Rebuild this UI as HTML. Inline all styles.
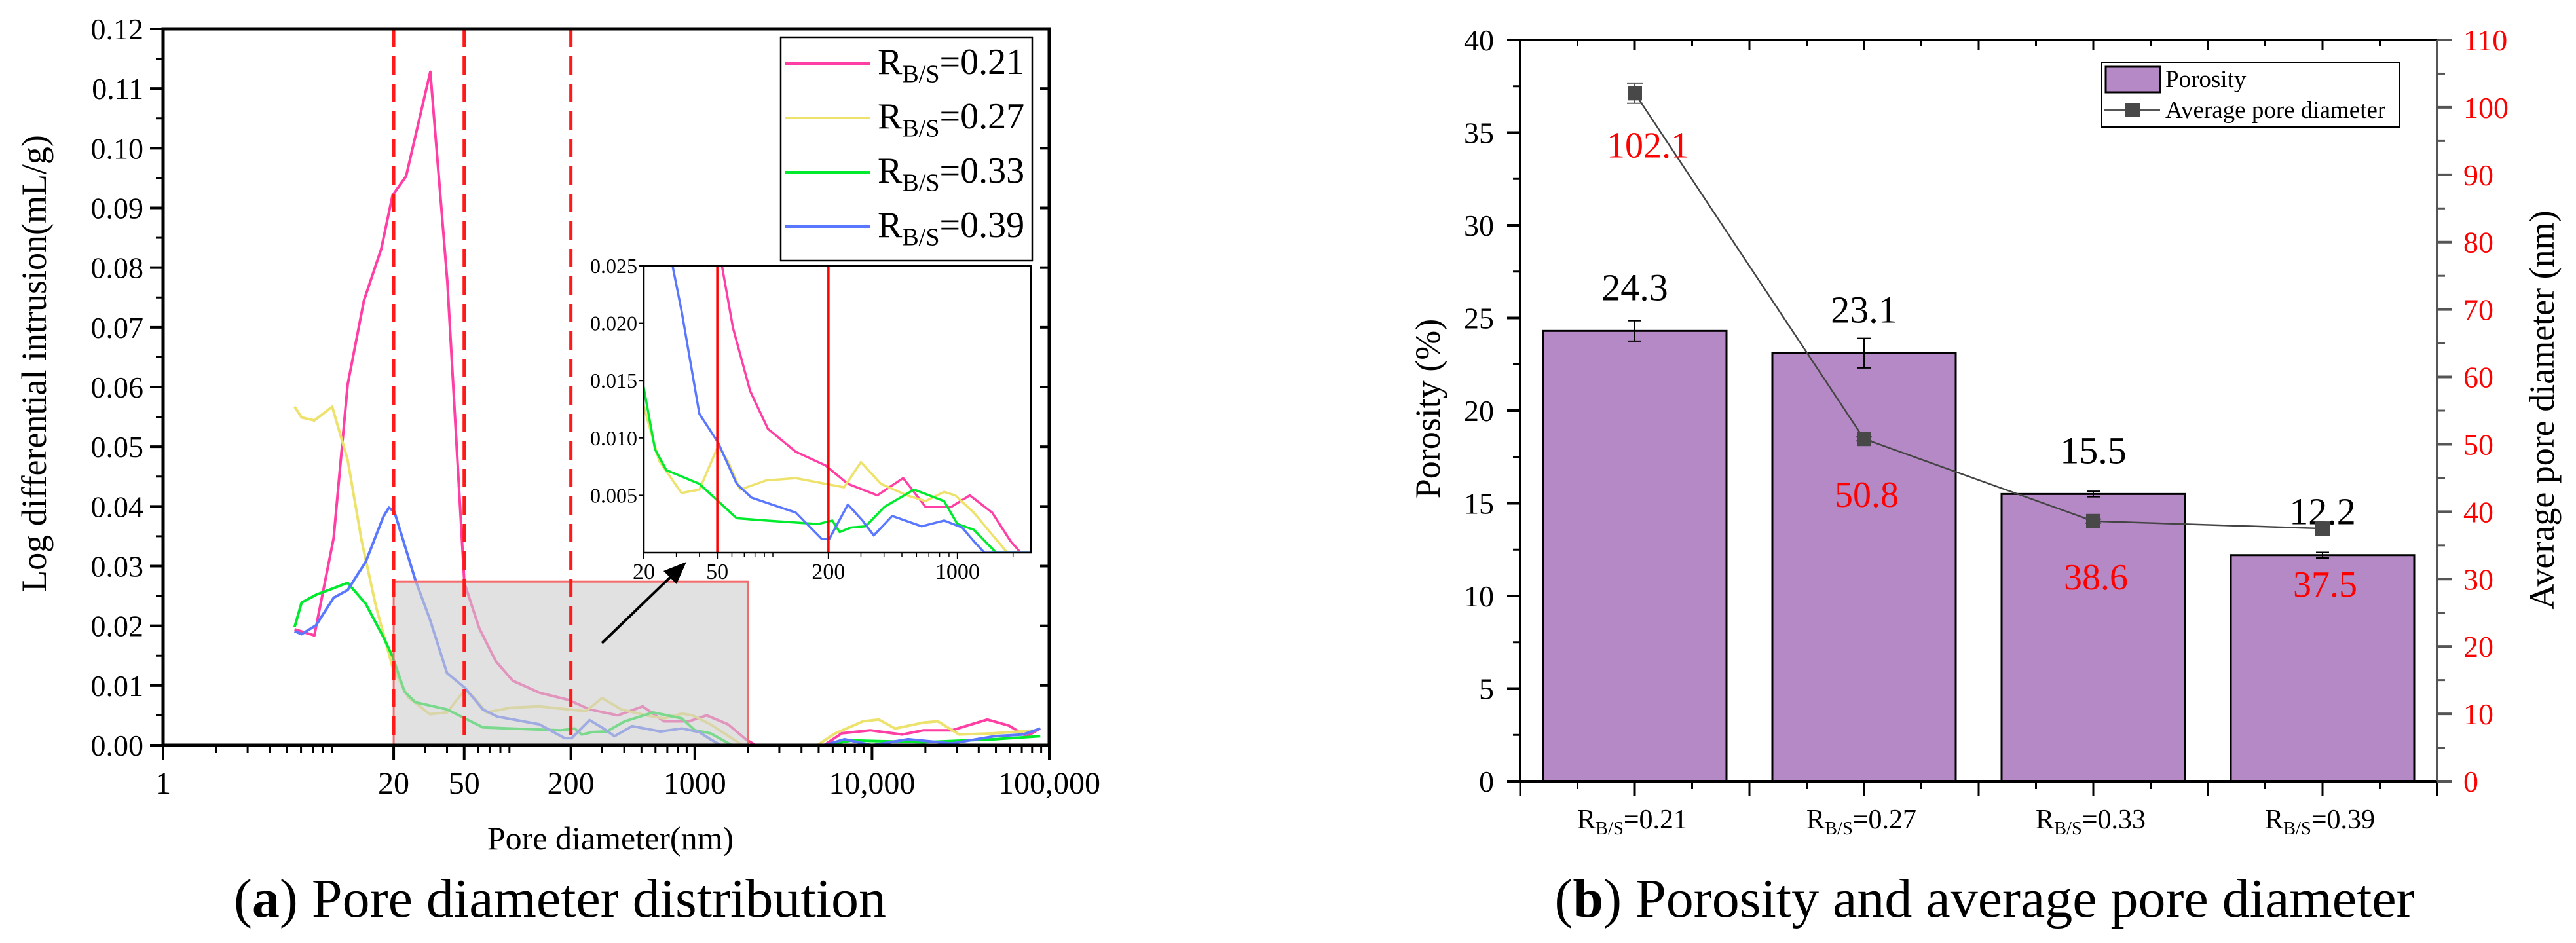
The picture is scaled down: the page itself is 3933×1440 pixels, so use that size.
<!DOCTYPE html>
<html><head><meta charset="utf-8">
<style>
html,body{margin:0;padding:0;background:#fff;}
svg{display:block;font-family:"Liberation Serif",serif;}
</style></head>
<body>
<svg id="fig" width="3933" height="1440" viewBox="0 0 3933 1440" xmlns="http://www.w3.org/2000/svg">
<g id="left"></g>
<g id="right"></g>
</svg>
<script>
// ---------- Chart (a) data ----------
const seriesNames = ["0.21","0.27","0.33","0.39"];
const seriesColors = ["#ff3fa4","#ece26c","#00ea2e","#5a78ff"];
const d021 = [5.52,7.14,9.17,11.0,13.6,17.0,19.7,23.5,32.2,40.2,50.1,60.8,75.3,94,133,193,255,368,508,671,927,1167,1541,1941,2200,5360,6750,9770,14800,19500,28200,44700,59000,74500,89000];
const v021 = [0.0194,0.0184,0.0347,0.0604,0.0745,0.0831,0.0921,0.0953,0.1128,0.0775,0.0272,0.0196,0.0141,0.0108,0.0088,0.0076,0.0060,0.0050,0.0065,0.0040,0.0040,0.0050,0.0035,0.0010,0,0,0.0020,0.0025,0.0018,0.0025,0.0025,0.0043,0.0033,0.0015,0.0028];
const d027 = [5.52,6.05,7.14,9.0,11.0,13.2,15.9,19.7,24.2,32,40,50.5,57,66.5,92,133,193,243,300,385,533,671,846,973,1226,1860,4900,6200,8900,10900,13500,19500,23500,31000,49000,85000];
const v027 = [0.0567,0.0549,0.0544,0.0567,0.0478,0.0342,0.0232,0.0131,0.0080,0.0052,0.0055,0.0093,0.0080,0.0055,0.0063,0.0065,0.0060,0.0057,0.0079,0.0060,0.0050,0.0045,0.0053,0.0050,0.0035,0,0,0.0020,0.0040,0.0043,0.0028,0.0038,0.0040,0.0018,0.0020,0.0025];
const d033 = [5.52,6.05,7.3,11.0,13.9,17.5,19.7,23,26.5,40,50.5,63.7,92,176,210,230,265,318,403,582,846,1000,1226,1620,5360,7740,19500,49000,89000];
const v033 = [0.0198,0.0239,0.0252,0.0272,0.0237,0.0181,0.0149,0.0090,0.0072,0.0060,0.0045,0.0030,0.0028,0.0025,0.0028,0.0018,0.0022,0.0023,0.0040,0.0055,0.0045,0.0025,0.0020,0,0,0.0008,0.0005,0.0010,0.0015];
const d039 = [5.52,6.05,7.3,9.17,11.0,13.9,17.5,18.8,20.2,26.5,32,40,50.5,63.7,76.6,133,184,202,255,306,352,443,640,846,1060,1226,1400,5360,7000,10000,16000,28000,49000,71000,89000];
const v039 = [0.0191,0.0186,0.0201,0.0247,0.0260,0.0307,0.0383,0.0398,0.0391,0.0277,0.0211,0.0121,0.0096,0.0060,0.0048,0.0035,0.0012,0.0012,0.0042,0.0028,0.0015,0.0032,0.0023,0.0028,0.0022,0.0010,0,0,0.0010,0,0.0010,0.0003,0.0015,0.0018,0.0028];
const xTickVals = [1,20,50,200,1000,10000,100000];
const xTickLabels = ["1","20","50","200","1000","10,000","100,000"];
const yTickVals = [0,0.01,0.02,0.03,0.04,0.05,0.06,0.07,0.08,0.09,0.10,0.11,0.12];
const yTickLabels = ["0.00","0.01","0.02","0.03","0.04","0.05","0.06","0.07","0.08","0.09","0.10","0.11","0.12"];
const dashedLines = [20,50,200];
const zoomBox = [20,2000,0.0274];
const insetYTicks = [0.005,0.010,0.015,0.020,0.025];
const insetYLabels = ["0.005","0.010","0.015","0.020","0.025"];
const insetXTicks = [20,50,200,1000];
const insetXLabels = ["20","50","200","1000"];
const insetRedLines = [50,200];

// ---------- Chart (b) data ----------
const categories = ["0.21","0.27","0.33","0.39"];
const porosity = [24.3,23.1,15.5,12.2];
const porosityErr = [0.55,0.8,0.15,0.15];
const avgDiameter = [102.1,50.8,38.6,37.5];
const avgDiameterErr = [1.5,0.3,0.3,0.3];
const leftTicks = [0,5,10,15,20,25,30,35,40];
const rightTicks = [0,10,20,30,40,50,60,70,80,90,100,110];

const NS = "http://www.w3.org/2000/svg";
function mk(parent, tag, attrs, text){
  const e = document.createElementNS(NS, tag);
  for (const k in attrs) e.setAttribute(k, attrs[k]);
  if (text !== undefined) e.textContent = text;
  parent.appendChild(e);
  return e;
}
function rbs(parent, x, y, size, val, anchor){
  const t = mk(parent, "text", {x:x, y:y, "font-size":size, "text-anchor":anchor||"start", fill:"#000"});
  mk(t, "tspan", {}, "R");
  mk(t, "tspan", {"font-size":size*0.68, dy:size*0.22}, "B/S");
  mk(t, "tspan", {dy:-size*0.22}, "=" + val);
  return t;
}

// ===== Chart (a) =====
(function(){
  const g = document.getElementById("left");
  const X0=249, X1=1602, Y0=1138, Y1=44;
  const xs = d => X0 + Math.log10(d)/5*(X1-X0);
  const ys = v => Y0 - v/0.12*(Y0-Y1);
  const datas = [[d021,v021],[d027,v027],[d033,v033],[d039,v039]];

  for (let dec=0; dec<5; dec++){
    for (let m=2; m<10; m++){
      const x = xs(m*Math.pow(10,dec));
      const t = mk(g,"line",{x1:x,y1:Y0,x2:x,y2:Y0+12,stroke:"#000","stroke-width":3});
      
      
    }
  }
  xTickVals.forEach((v,i)=>{
    const x = xs(v);
    const t = mk(g,"line",{x1:x,y1:Y0,x2:x,y2:Y0+22,stroke:"#000","stroke-width":4});
    
    
    const l = mk(g,"text",{x:x,y:1212,"font-size":48,"text-anchor":"middle"},xTickLabels[i]);
    
    
  });
  yTickVals.forEach((v,i)=>{
    const y = ys(v);
    const t = mk(g,"line",{x1:X0-20,y1:y,x2:X0,y2:y,stroke:"#000","stroke-width":4});
    
    
    const r = mk(g,"line",{x1:X1-14,y1:y,x2:X1,y2:y,stroke:"#000","stroke-width":4});
    
    
    const l = mk(g,"text",{x:X0-30,y:y+16,"font-size":46,"text-anchor":"end"},yTickLabels[i]);
    
    
    if (i<yTickVals.length-1){
      const ym = ys(v+0.005);
      const mt = mk(g,"line",{x1:X0-11,y1:ym,x2:X0,y2:ym,stroke:"#000","stroke-width":3});
      
      
    }
  });

  datas.forEach((dv,si)=>{
    const pts = dv[0].map((d,i)=>xs(d).toFixed(1)+","+ys(dv[1][i]).toFixed(1)).join(" ");
    const p = mk(g,"polyline",{points:pts,fill:"none",stroke:seriesColors[si],"stroke-width":4,"stroke-linejoin":"round"});
    
    
  });

  const zb = mk(g,"rect",{x:xs(zoomBox[0]),y:ys(zoomBox[2]),width:xs(zoomBox[1])-xs(zoomBox[0]),height:Y0-ys(zoomBox[2]),fill:"rgba(205,205,205,0.6)",stroke:"#f36b6b","stroke-width":3});
  
  

  dashedLines.forEach(v=>{
    const l = mk(g,"line",{x1:xs(v),y1:Y1,x2:xs(v),y2:Y0,stroke:"#ff1a1a","stroke-width":5,"stroke-dasharray":"28,14"});
    
    
  });

  const fr = mk(g,"rect",{x:X0,y:Y1,width:X1-X0,height:Y0-Y1,fill:"none",stroke:"#000","stroke-width":5});
  
  

  const ar = mk(g,"line",{x1:919,y1:982,x2:1030,y2:875,stroke:"#000","stroke-width":4});
  
  
  const ah = mk(g,"polygon",{points:"1048,858 1033,892 1013,872",fill:"#000"});
  
  

  // inset
  const IX0=983, IX1=1574, IY0=844, IY1=406;
  const ixs = d => IX0 + Math.log10(d/20)/Math.log10(2500/20)*(IX1-IX0);
  const iys = v => IY0 - v/0.025*(IY0-IY1);
  const ig = mk(g,"g",{});
  
  
  mk(ig,"rect",{x:IX0,y:IY1,width:IX1-IX0,height:IY0-IY1,fill:"#fff"});
  const cp = mk(ig,"clipPath",{id:"ic"});
  mk(cp,"rect",{x:IX0,y:IY1,width:IX1-IX0,height:IY0-IY1});
  const cg = mk(ig,"g",{"clip-path":"url(#ic)"});
  datas.forEach((dv,si)=>{
    const pts = dv[0].map((d,i)=>ixs(d).toFixed(1)+","+iys(dv[1][i]).toFixed(1)).join(" ");
    const p = mk(cg,"polyline",{points:pts,fill:"none",stroke:seriesColors[si],"stroke-width":3.5,"stroke-linejoin":"round"});
    
    
  });
  insetRedLines.forEach(v=>{
    const l = mk(ig,"line",{x1:ixs(v),y1:IY1,x2:ixs(v),y2:IY0,stroke:"#ff0000","stroke-width":3.5});
    
    
  });
  mk(ig,"rect",{x:IX0,y:IY1,width:IX1-IX0,height:IY0-IY1,fill:"none",stroke:"#000","stroke-width":2.5});
  insetYTicks.forEach((v,i)=>{
    const y=iys(v);
    mk(ig,"line",{x1:IX0-8,y1:y,x2:IX0,y2:y,stroke:"#000","stroke-width":2});
    const l = mk(ig,"text",{x:IX0-10,y:y+11,"font-size":32,"text-anchor":"end"},insetYLabels[i]);
    
    
  });
  for (let dec=1; dec<4; dec++){
    for (let m=1; m<10; m++){
      const d=m*Math.pow(10,dec);
      if (d<20||d>2500) continue;
      mk(ig,"line",{x1:ixs(d),y1:IY0,x2:ixs(d),y2:IY0+6,stroke:"#000","stroke-width":1.5});
    }
  }
  insetXTicks.forEach((v,i)=>{
    mk(ig,"line",{x1:ixs(v),y1:IY0,x2:ixs(v),y2:IY0+10,stroke:"#000","stroke-width":2});
    const l = mk(ig,"text",{x:ixs(v),y:884,"font-size":34,"text-anchor":"middle"},insetXLabels[i]);
    
    
  });

  // legend
  const lg = mk(g,"g",{});
  
  
  mk(lg,"rect",{x:1192,y:57,width:384,height:341,fill:"#fff",stroke:"#000","stroke-width":2.5});
  seriesNames.forEach((n,i)=>{
    const y = 97 + i*83;
    const ln = mk(lg,"line",{x1:1199,y1:y,x2:1328,y2:y,stroke:seriesColors[i],"stroke-width":4});
    
    
    const t = rbs(lg,1340,y+16,56,n);
    
    
  });

  const yt = mk(g,"text",{x:0,y:0,"font-size":54,"text-anchor":"middle",transform:"translate(70,555) rotate(-90)"},"Log differential intrusion(mL/g)");
  
  
  const xt = mk(g,"text",{x:932,y:1297,"font-size":50,"text-anchor":"middle"},"Pore diameter(nm)");
  
  
  const cap = mk(g,"text",{x:855,y:1400,"font-size":84,"text-anchor":"middle"});
  mk(cap,"tspan",{},"(");
  mk(cap,"tspan",{"font-weight":"bold"},"a");
  mk(cap,"tspan",{},") Pore diameter distribution");
  
  
})();

// ===== Chart (b) =====
(function(){
  const g = document.getElementById("right");
  const X0=2321, X1=3721, Y0=1193, Y1=61;
  const cw = (X1-X0)/categories.length;
  const xc = i => X0 + cw*(i+0.5);
  const yl = v => Y0 - v/40*(Y0-Y1);
  const yr = v => Y0 - v/110*(Y0-Y1);

  porosity.forEach((v,i)=>{
    const b = mk(g,"rect",{x:xc(i)-140,y:yl(v),width:280,height:Y0-yl(v),fill:"#b589c5",stroke:"#000","stroke-width":3});
    
    
    const e = porosityErr[i];
    const eg = mk(g,"path",{d:`M${xc(i)-10},${yl(v+e)}H${xc(i)+10}M${xc(i)},${yl(v+e)}V${yl(v-e)}M${xc(i)-10},${yl(v-e)}H${xc(i)+10}`,stroke:"#000","stroke-width":2,fill:"none"});
    
    
    const l = mk(g,"text",{x:xc(i),y:yl(v)-47,"font-size":58,"text-anchor":"middle"},v.toFixed(1));
    
    
  });

  const pts = avgDiameter.map((v,i)=>xc(i)+","+yr(v)).join(" ");
  const pl = mk(g,"polyline",{points:pts,fill:"none",stroke:"#444","stroke-width":2.5});
  
  
  avgDiameter.forEach((v,i)=>{
    const e = avgDiameterErr[i];
    const eg = mk(g,"path",{d:`M${xc(i)-12},${yr(v+e)}H${xc(i)+12}M${xc(i)},${yr(v+e)}V${yr(v-e)}M${xc(i)-12},${yr(v-e)}H${xc(i)+12}`,stroke:"#555","stroke-width":2,fill:"none"});
    
    
    const m = mk(g,"rect",{x:xc(i)-11,y:yr(v)-11,width:22,height:22,fill:"#484848"});
    
    
    const l = mk(g,"text",{x:xc(i)+ (i===0?20:4),y:yr(v)+(i===0?98:104),"font-size":56,"text-anchor":"middle",fill:"#ff0000"},v.toFixed(1));
    
    
  });

  mk(g,"line",{x1:X0,y1:Y1,x2:X1,y2:Y1,stroke:"#000","stroke-width":4});
  mk(g,"line",{x1:X0,y1:Y0,x2:X1,y2:Y0,stroke:"#000","stroke-width":4});
  const la = mk(g,"line",{x1:X0,y1:Y1,x2:X0,y2:Y0,stroke:"#000","stroke-width":4});
  
  
  const ra = mk(g,"line",{x1:X1,y1:Y1,x2:X1,y2:Y0+22,stroke:"#555","stroke-width":4});
  
  
  mk(g,"line",{x1:X1,y1:Y0,x2:X1,y2:Y0+22,stroke:"#000","stroke-width":4});

  for (let k=0;k<16;k++){
    const x = X0 + cw*k/4;
    const major = k%2===0;
    mk(g,"line",{x1:x,y1:Y0,x2:x,y2:Y0+(major?22:12),stroke:"#000","stroke-width":3});
    if (k>0) mk(g,"line",{x1:x,y1:Y1,x2:x,y2:Y1+(major?16:10),stroke:"#000","stroke-width":3});
  }
  categories.forEach((c,i)=>{
    const t = rbs(g,xc(i)-4,1265,42,c,"middle");
    
    
  });

  leftTicks.forEach(v=>{
    const y=yl(v);
    mk(g,"line",{x1:X0-20,y1:y,x2:X0,y2:y,stroke:"#000","stroke-width":4});
    if (v<40) mk(g,"line",{x1:X0-11,y1:yl(v+2.5),x2:X0,y2:yl(v+2.5),stroke:"#000","stroke-width":3});
    const l = mk(g,"text",{x:X0-40,y:y+16,"font-size":46,"text-anchor":"end"},String(v));
    
    
  });
  rightTicks.forEach(v=>{
    const y=yr(v);
    mk(g,"line",{x1:X1,y1:y,x2:X1+22,y2:y,stroke:"#555","stroke-width":4});
    if (v<110) mk(g,"line",{x1:X1,y1:yr(v+5),x2:X1+12,y2:yr(v+5),stroke:"#555","stroke-width":3});
    const l = mk(g,"text",{x:X1+40,y:y+16,"font-size":46,"fill":"#ff0000"},String(v));
    
    
  });

  const lg = mk(g,"g",{});
  
  
  mk(lg,"rect",{x:3209,y:95,width:454,height:99,fill:"#fff",stroke:"#000","stroke-width":2});
  mk(lg,"rect",{x:3215,y:102,width:83,height:39,fill:"#b589c5",stroke:"#000","stroke-width":3});
  mk(lg,"text",{x:3306,y:133,"font-size":37},"Porosity");
  mk(lg,"line",{x1:3212,y1:168,x2:3298,y2:168,stroke:"#555","stroke-width":2.5});
  mk(lg,"rect",{x:3245,y:157,width:22,height:22,fill:"#484848"});
  mk(lg,"text",{x:3306,y:180,"font-size":37},"Average pore diameter");

  const ylt = mk(g,"text",{x:0,y:0,"font-size":54,"text-anchor":"middle",transform:"translate(2198,624) rotate(-90)"},"Porosity (%)");
  
  
  const yrt = mk(g,"text",{x:0,y:0,"font-size":54,"text-anchor":"middle",transform:"translate(3899,626) rotate(-90)"},"Average pore diameter (nm)");
  
  
  const cap = mk(g,"text",{x:3030,y:1400,"font-size":84,"text-anchor":"middle"});
  mk(cap,"tspan",{},"(");
  mk(cap,"tspan",{"font-weight":"bold"},"b");
  mk(cap,"tspan",{},") Porosity and average pore diameter");
  
  
})();
</script>
</body></html>
